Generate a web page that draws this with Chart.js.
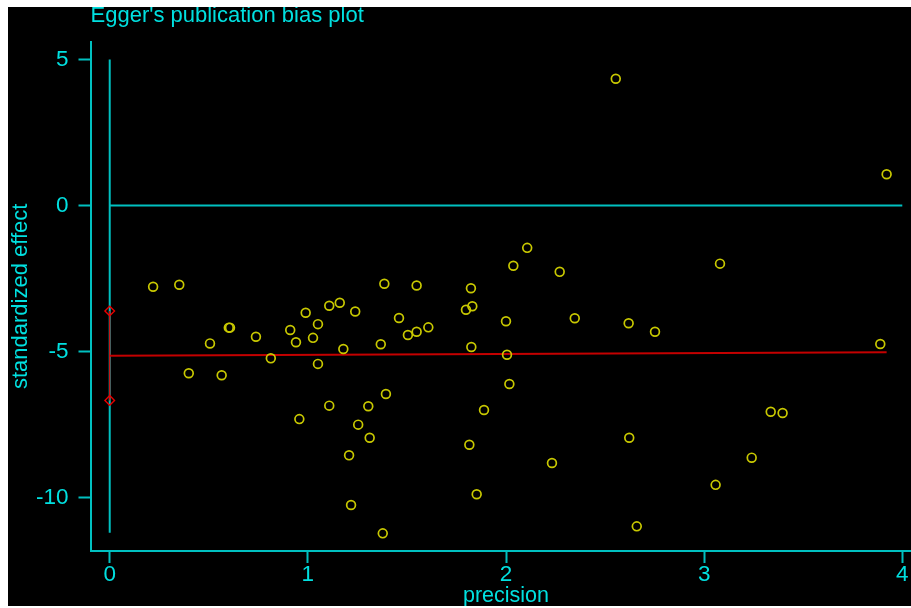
<!DOCTYPE html>
<html><head><meta charset="utf-8">
<script src="https://cdn.jsdelivr.net/npm/chart.js@4"></script>
<style>
html,body{margin:0;padding:0;background:#fff;width:911px;height:608px;overflow:hidden}
#wrap{position:absolute;left:8px;top:7px;width:903px;height:599px;background:#000;overflow:hidden}
canvas{display:block}
</style></head><body>
<div id="wrap"><canvas id="c" width="903" height="599"></canvas></div>
<script>
// ---- data ----
const precision = [0.219,0.351,0.399,0.506,0.565,0.601,0.607,0.738,0.813,0.911,0.940,0.957,0.989,1.026,1.051,1.051,1.108,1.108,1.161,1.179,1.208,1.218,1.239,1.254,1.305,1.312,1.368,1.378,1.386,1.394,1.460,1.505,1.549,1.549,1.608,1.798,1.815,1.823,1.825,1.830,1.852,1.889,2.000,2.005,2.017,2.037,2.107,2.232,2.271,2.347,2.554,2.619,2.622,2.660,2.752,3.058,3.080,3.240,3.336,3.396,3.889,3.921];
const effect = [-2.78,-2.71,-5.74,-4.72,-5.81,-4.18,-4.18,-4.49,-5.23,-4.26,-4.68,-7.31,-3.67,-4.53,-4.06,-5.42,-3.43,-6.85,-3.33,-4.91,-8.55,-10.25,-3.63,-7.50,-6.87,-7.95,-4.75,-11.22,-2.68,-6.45,-3.85,-4.43,-4.32,-2.74,-4.17,-3.57,-8.19,-2.83,-4.84,-3.45,-9.88,-7.00,-3.96,-5.11,-6.11,-2.06,-1.45,-8.81,-2.27,-3.86,4.34,-4.03,-7.95,-10.98,-4.32,-9.56,-1.99,-8.63,-7.06,-7.10,-4.74,1.07];
const xTicks = [0,1,2,3,4];
const yTicks = [-10,-5,0,5];
const vRefX = [0,0], vRefY = [5,-11.2];        // vertical reference line at precision 0
const hRefX = [0,4], hRefY = [0,0];            // horizontal reference line at effect 0
const ciX = [0,0], ciY = [-3.61,-6.67];        // intercept confidence interval
const fitX = [0,3.921], fitY = [-5.14,-5.02];  // Egger regression line
const titleText = "Egger's publication bias plot";
const xTitle = "precision";
const yTitle = "standardized effect";

const CY_LINE = '#00c0c0', CY_TEXT = '#00e0e0', YEL = '#c8c800';
const FONT = '"Liberation Sans", Arial, sans-serif';
const pts = (xs, ys) => xs.map((x, i) => ({x, y: ys[i]}));

const textPlugin = {
  id: 'texts',
  afterDraw(chart) {
    const ctx = chart.ctx, xs = chart.scales.x;
    ctx.save();
    ctx.fillStyle = CY_TEXT;
    ctx.font = '22px ' + FONT;
    ctx.textBaseline = 'alphabetic';
    ctx.textAlign = 'left';
    ctx.fillText(titleText, chart.chartArea.left, 15.3);
    ctx.font = '21.5px ' + FONT;
    ctx.textAlign = 'center';
    ctx.fillText(xTitle, xs.getPixelForValue(2), 594.7);
    ctx.restore();
  }
};

const axisCommon = {
  type: 'linear',
  grid: {display: true, drawOnChartArea: false, drawTicks: true, tickLength: 12, tickWidth: 2, tickColor: CY_LINE},
  border: {display: true, color: CY_LINE, width: 2},
};

new Chart(document.getElementById('c'), {
  type: 'scatter',
  data: {
    datasets: [
      {type: 'scatter', data: pts(precision, effect), pointStyle: 'circle', pointRadius: 4.4, pointBorderWidth: 1.7,
       pointBorderColor: YEL, pointBackgroundColor: 'rgba(0,0,0,0)', order: 0},
      {type: 'line', data: pts(ciX, ciY), borderColor: '#e00000', borderWidth: 1.2, pointStyle: 'rectRot', pointRadius: 4.8,
       pointBorderColor: '#e80000', pointBorderWidth: 1.4, pointBackgroundColor: 'rgba(0,0,0,0)', fill: false, tension: 0, order: 1},
      {type: 'line', data: pts(fitX, fitY), borderColor: '#c40000', borderWidth: 2, pointRadius: 0, fill: false, tension: 0, order: 2},
      {type: 'line', data: pts(vRefX, vRefY), borderColor: CY_LINE, borderWidth: 2, pointRadius: 0, fill: false, order: 3},
      {type: 'line', data: pts(hRefX, hRefY), borderColor: CY_LINE, borderWidth: 2, pointRadius: 0, fill: false, order: 3}
    ]
  },
  options: {
    responsive: false,
    animation: false,
    events: [],
    layout: {autoPadding: false, padding: {top: 34.7, left: 0, right: 0, bottom: 0}},
    plugins: {legend: {display: false}, tooltip: {enabled: false}, title: {display: false}},
    scales: {
      x: Object.assign({}, axisCommon, {
        min: -0.097, max: 4.044,
        afterBuildTicks: s => { s.ticks = xTicks.map(v => ({value: v})); },
        afterFit: s => { s.height = 55; s.paddingLeft = 0; s.paddingRight = 0; },
        ticks: {color: CY_TEXT, font: {family: FONT, size: 22.5}, padding: -2, maxRotation: 0, autoSkip: false},
        title: {display: false}
      }),
      y: Object.assign({}, axisCommon, {
        min: -11.824, max: 5.606,
        afterBuildTicks: s => { s.ticks = yTicks.map(v => ({value: v})); },
        afterFit: s => { s.width = 82.5; s.paddingTop = 0; s.paddingBottom = 0; },
        ticks: {color: CY_TEXT, font: {family: FONT, size: 22.5}, padding: 10, autoSkip: false},
        title: {display: true, text: yTitle, color: CY_TEXT, font: {family: FONT, size: 22}, padding: 0}
      })
    }
  },
  plugins: [textPlugin]
});
</script>
</body></html>
